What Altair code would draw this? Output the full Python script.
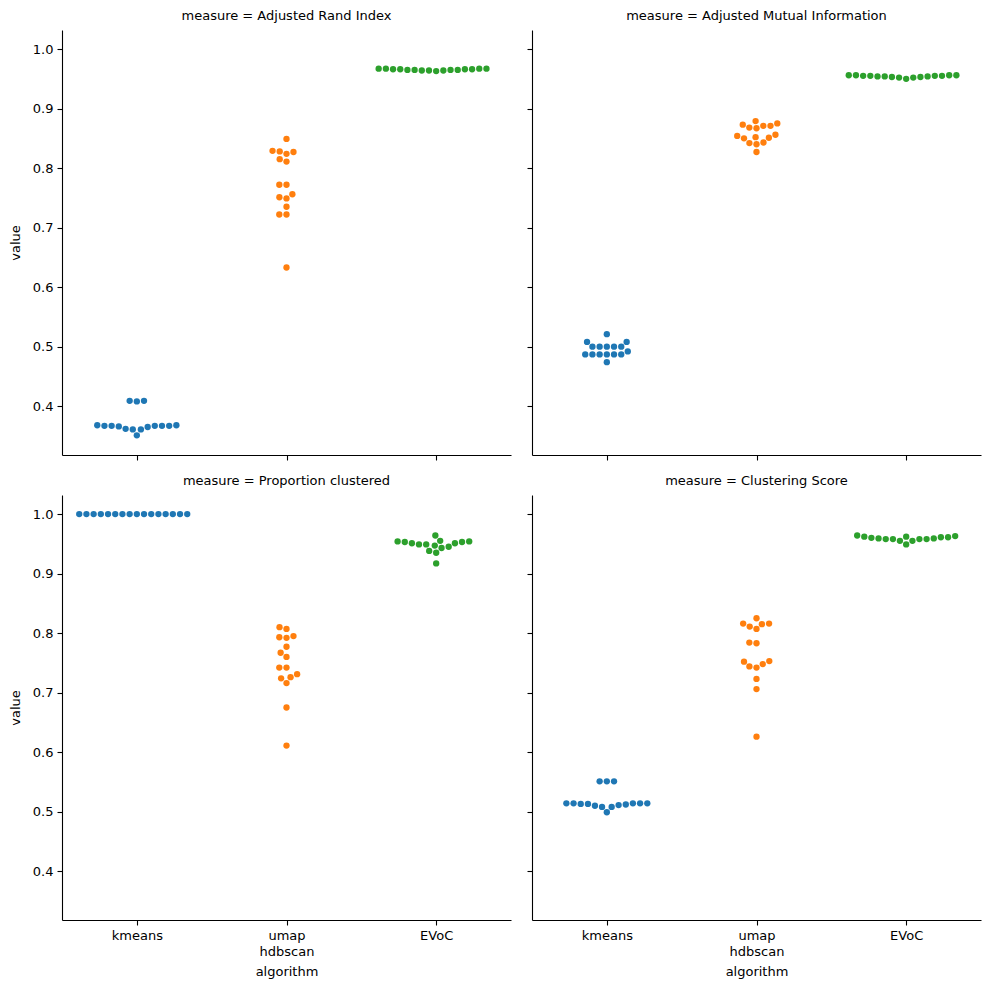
import altair as alt
import numpy as np
import pandas as pd

# ---------------- data ----------------
algorithms = ["kmeans", "umap hdbscan", "EVoC"]
measures = ["Adjusted Rand Index", "Adjusted Mutual Information",
            "Proportion clustered", "Clustering Score"]
colors = ["#1f77b4", "#ff7f0e", "#2ca02c"]

ari_kmeans = [0.351, 0.361, 0.361, 0.362, 0.365, 0.366, 0.367, 0.367,
              0.367, 0.367, 0.367, 0.368, 0.368, 0.408, 0.409, 0.409]
ari_umap = [0.849, 0.827, 0.824, 0.828, 0.829, 0.815, 0.811, 0.772,
            0.772, 0.751, 0.749, 0.756, 0.735, 0.722, 0.722, 0.633]
ari_evoc = [0.963, 0.964, 0.964, 0.964, 0.965, 0.965, 0.965, 0.965,
            0.966, 0.966, 0.966, 0.966, 0.967, 0.967, 0.967, 0.967]

ami_kmeans = [0.521, 0.508, 0.508, 0.500, 0.500, 0.500, 0.500, 0.500,
              0.492, 0.487, 0.487, 0.487, 0.487, 0.487, 0.487, 0.474]
ami_umap = [0.879, 0.875, 0.873, 0.868, 0.867, 0.871, 0.871, 0.852,
            0.851, 0.854, 0.856, 0.850, 0.842, 0.840, 0.843, 0.827]
ami_evoc = [0.950, 0.952, 0.952, 0.953, 0.953, 0.954, 0.954, 0.954,
            0.955, 0.955, 0.955, 0.955, 0.956, 0.956, 0.956, 0.956]

prop_kmeans = [1.0] * 16
prop_umap = [0.810, 0.807, 0.793, 0.792, 0.795, 0.777, 0.767, 0.760,
             0.742, 0.742, 0.724, 0.726, 0.731, 0.716, 0.675, 0.611]
prop_evoc = [0.964, 0.955, 0.954, 0.954, 0.953, 0.953, 0.951, 0.951,
             0.949, 0.949, 0.947, 0.945, 0.943, 0.938, 0.935, 0.917]

score_kmeans = [0.514, 0.514, 0.514, 0.513, 0.512, 0.508, 0.510, 0.508,
                0.511, 0.513, 0.514, 0.514, 0.499, 0.551, 0.551, 0.551]
score_umap = [0.825, 0.816, 0.811, 0.807, 0.815, 0.816, 0.784, 0.783,
              0.752, 0.744, 0.742, 0.748, 0.753, 0.723, 0.706, 0.626]
score_evoc = [0.963, 0.962, 0.961, 0.959, 0.958, 0.958, 0.955, 0.962,
              0.949, 0.955, 0.958, 0.958, 0.959, 0.960, 0.961, 0.964]

series = {
    "Adjusted Rand Index": [ari_kmeans, ari_umap, ari_evoc],
    "Adjusted Mutual Information": [ami_kmeans, ami_umap, ami_evoc],
    "Proportion clustered": [prop_kmeans, prop_umap, prop_evoc],
    "Clustering Score": [score_kmeans, score_umap, score_evoc],
}

# ---------------- layout helpers ----------------
PANEL_W, PANEL_H = 449, 425
Y_MIN, Y_MAX = 0.318, 1.032
PX_PER_UNIT = PANEL_H / (Y_MAX - Y_MIN)
STEP_PX = PANEL_W / 3.0
DOT = 7.2  # marker diameter in px


def beeswarm(values):
    """seaborn-like swarm: place points in value order as close to centre as possible."""
    ys = np.asarray(values, dtype=float) * PX_PER_UNIT
    order = np.argsort(ys, kind="stable")
    placed = []
    xs = np.zeros(len(ys))
    for i in order:
        y = ys[i]
        cands = [0.0]
        for px, py in placed:
            dy = abs(y - py)
            if dy < DOT:
                dx = np.sqrt(DOT * DOT - dy * dy)
                cands += [px - dx, px + dx]
        cands = sorted(cands, key=lambda c: (abs(c), c))
        chosen = cands[-1]
        for c in cands:
            if all((c - px) ** 2 + (y - py) ** 2 >= DOT * DOT - 1e-6 for px, py in placed):
                chosen = c
                break
        xs[i] = chosen
        placed.append((chosen, y))
    return xs / STEP_PX


rows = []
for m in measures:
    for k, alg in enumerate(algorithms):
        vals = series[m][k]
        offs = beeswarm(vals)
        for v, o in zip(vals, offs):
            rows.append({"measure": m, "algorithm": alg, "value": v, "x": k + o})
df = pd.DataFrame(rows)

label_expr = ("datum.value == 0 ? 'kmeans' : datum.value == 1 ? "
              "['umap', 'hdbscan'] : 'EVoC'")


def panel(m, show_x, show_y):
    d = df[df.measure == m]
    xaxis = alt.Axis(values=[0, 1, 2], labels=show_x, labelExpr=label_expr,
                     title="algorithm" if show_x else None, grid=False,
                     labelLineHeight=16, titlePadding=7)
    yaxis = alt.Axis(values=[0.4, 0.5, 0.6, 0.7, 0.8, 0.9, 1.0], format=".1f",
                     labels=show_y, title="value" if show_y else None,
                     grid=False, titlePadding=10)
    return alt.Chart(d, title=alt.Title(f"measure = {m}", fontSize=13,
                                        fontWeight="normal", font="DejaVu Sans",
                                        color="black", anchor="middle", offset=7)
                     ).mark_circle(size=40, opacity=1, strokeWidth=0).encode(
        x=alt.X("x:Q", scale=alt.Scale(domain=[-0.5, 2.5], nice=False, zero=False),
                axis=xaxis),
        y=alt.Y("value:Q", scale=alt.Scale(domain=[Y_MIN, Y_MAX], nice=False, zero=False),
                axis=yaxis),
        color=alt.Color("algorithm:N", scale=alt.Scale(domain=algorithms, range=colors),
                        legend=None),
    ).properties(width=PANEL_W, height=PANEL_H)


top = alt.hconcat(panel(measures[0], False, True), panel(measures[1], False, False),
                  spacing=15)
bottom = alt.hconcat(panel(measures[2], True, True), panel(measures[3], True, False),
                     spacing=15)

chart = alt.vconcat(top, bottom, spacing=14).properties(
    padding={"left": 9, "top": 10, "right": 5, "bottom": 5},
    background="white",
).configure_view(strokeWidth=0).configure_axis(
    domainColor="black", tickColor="black", labelColor="black", titleColor="black",
    labelFont="DejaVu Sans", titleFont="DejaVu Sans", labelFontSize=13,
    titleFontSize=13, titleFontWeight="normal", tickSize=5, tickWidth=1.1,
    domainWidth=1.1, labelPadding=4,
)

chart.save("out.html", embed_options={"renderer": "svg", "actions": False})
